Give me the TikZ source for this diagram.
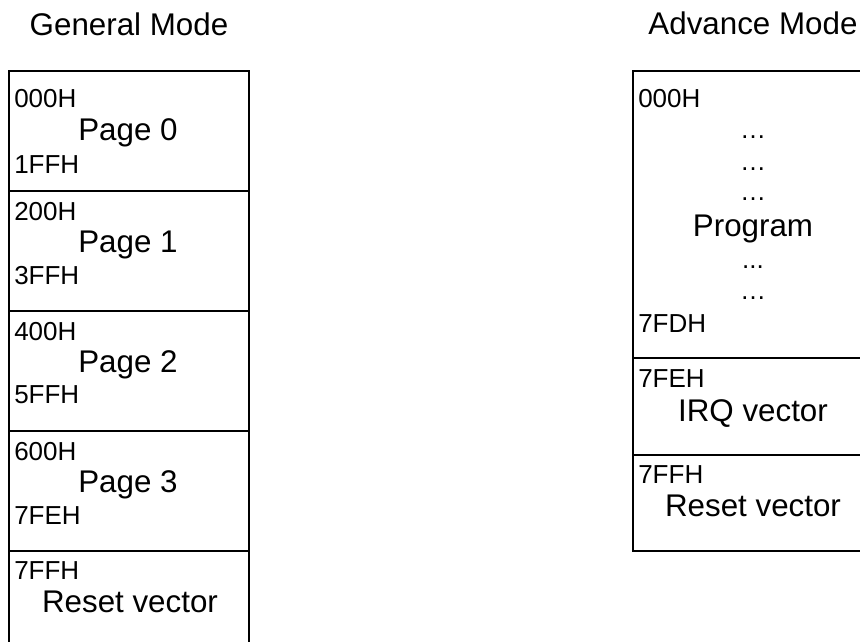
\documentclass[tikz,border=0pt]{standalone}
\usepackage{fontspec}
\setmainfont{Liberation Sans}

\begin{document}
\begin{tikzpicture}[x=0.75pt,y=0.75pt,yscale=-1,xscale=1,
	cell/.style={line width=2.2pt},
	addrlbl/.style={anchor=base west,inner sep=0pt,font=\fontsize{19.5}{23}\selectfont},
	dotlbl/.style={anchor=base,inner sep=0pt,font=\fontsize{19.5}{23}\selectfont},
	pagelbl/.style={anchor=base west,inner sep=0pt,font=\fontsize{23.5}{28}\selectfont},
	midlbl/.style={anchor=base,inner sep=0pt,font=\fontsize{23.5}{28}\selectfont}]
	%set diagram left start at 0, and has height of 642
	\useasboundingbox (0,0) rectangle (860,642);
	\clip (0,0) rectangle (860,642);

	% Text Node
	\draw (129,36) node [midlbl] (gentitle) {General Mode};
	% Text Node
	\draw (753,35) node [midlbl] (advtitle) {Advance Mode};

	%Shape: Rectangle [page 0]
	\draw [cell] (9,71) rectangle (249,191);
	%Shape: Rectangle [page 1]
	\draw [cell] (9,191) rectangle (249,311);
	%Shape: Rectangle [page 2]
	\draw [cell] (9,311) rectangle (249,431);
	%Shape: Rectangle [page 3]
	\draw [cell] (9,431) rectangle (249,551);
	%Shape: Rectangle [reset, general]
	\draw [cell] (9,551) rectangle (249,671);

	% Text Node
	\draw (14,108) node [addrlbl] (gstart0) {000H};
	% Text Node
	\draw (78,140) node [pagelbl] (page0) {Page 0};
	% Text Node
	\draw (14,173) node [addrlbl] (gend0) {1FFH};
	% Text Node
	\draw (14,220) node [addrlbl] (gstart1) {200H};
	% Text Node
	\draw (78,252) node [pagelbl] (page1) {Page 1};
	% Text Node
	\draw (14,284) node [addrlbl] (gend1) {3FFH};
	% Text Node
	\draw (14,340) node [addrlbl] (gstart2) {400H};
	% Text Node
	\draw (78,372) node [pagelbl] (page2) {Page 2};
	% Text Node
	\draw (14,403) node [addrlbl] (gend2) {5FFH};
	% Text Node
	\draw (14,460) node [addrlbl] (gstart3) {600H};
	% Text Node
	\draw (78,492) node [pagelbl] (page3) {Page 3};
	% Text Node
	\draw (14,524) node [addrlbl] (gend3) {7FEH};
	% Text Node
	\draw (14,579) node [addrlbl] (gstartrst) {7FFH};
	% Text Node
	\draw (130,612) node [midlbl] (greset) {Reset vector};

	%Shape: Rectangle [program]
	\draw [cell] (633,71) rectangle (873,358);
	%Shape: Rectangle [irq]
	\draw [cell] (633,358) rectangle (873,455);
	%Shape: Rectangle [reset, advance]
	\draw [cell] (633,455) rectangle (873,551);

	% Text Node
	\draw (638,108) node [addrlbl] (astart0) {000H};
	% Text Node
	\draw (753,138) node [dotlbl] (dots1) {…};
	% Text Node
	\draw (753,170) node [dotlbl] (dots2) {…};
	% Text Node
	\draw (753,200) node [dotlbl] (dots3) {…};
	% Text Node
	\draw (753,236) node [midlbl] (program) {Program};
	% Text Node
	\draw (753,268) node [dotlbl] (dots4) {...};
	% Text Node
	\draw (753,299) node [dotlbl] (dots5) {…};
	% Text Node
	\draw (638,332) node [addrlbl] (aend0) {7FDH};
	% Text Node
	\draw (638,387) node [addrlbl] (astartirq) {7FEH};
	% Text Node
	\draw (753,421) node [midlbl] (irq) {IRQ vector};
	% Text Node
	\draw (638,483) node [addrlbl] (astartrst) {7FFH};
	% Text Node
	\draw (753,516) node [midlbl] (areset) {Reset vector};

\end{tikzpicture}
\end{document}
